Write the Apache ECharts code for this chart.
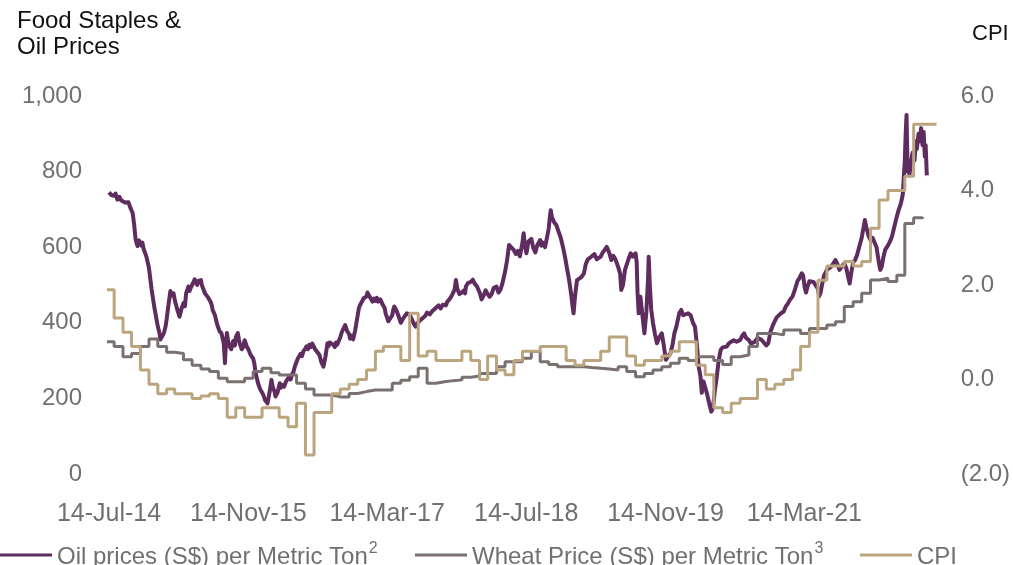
<!DOCTYPE html>
<html>
<head>
<meta charset="utf-8">
<script src="https://cdn.jsdelivr.net/npm/echarts@6/dist/echarts.min.js"></script>
<style>
  html, body { margin: 0; padding: 0; background: #ffffff; }
  #chart { width: 1013px; height: 565px; }
</style>
</head>
<body>
<div id="chart"></div>
<script>
// ---- Series names and footnote markers ----
const OIL_NAME = 'Oil prices (S$) per Metric Ton';
const WHEAT_NAME = 'Wheat Price (S$) per Metric Ton';
const CPI_NAME = 'CPI';
const footnotes = { [OIL_NAME]: '2', [WHEAT_NAME]: '3', [CPI_NAME]: '' };

// ---- X-axis tick dates ----
const xTickDates = ['2014-07-14', '2015-11-14', '2017-03-14', '2018-07-14', '2019-11-14', '2021-03-14'];
const xStart = '2014-07-14';
const xEnd = '2022-07-01';

// ---- Oil prices (S$ per metric ton) ----
const oilPrices = [
  ['2014-07-14',745],['2014-07-18',748],['2014-07-22',738],['2014-07-27',741],['2014-08-01',736],
  ['2014-08-06',742],['2014-08-12',726],['2014-08-20',733],['2014-08-25',724],['2014-09-01',728],
  ['2014-09-08',718],['2014-09-15',715],['2014-09-20',719],['2014-09-25',708],['2014-10-01',704],
  ['2014-10-05',690],['2014-10-10',660],['2014-10-15',622],['2014-10-18',612],['2014-10-22',603],
  ['2014-10-27',618],['2014-11-01',615],['2014-11-05',604],['2014-11-08',612],['2014-11-12',596],
  ['2014-11-15',598],['2014-11-22',575],['2014-12-01',545],['2014-12-10',490],['2014-12-20',440],
  ['2015-01-01',390],['2015-01-07',372],['2015-01-10',356],['2015-01-15',352],['2015-01-22',372],
  ['2015-01-28',390],['2015-02-01',410],['2015-02-06',440],['2015-02-10',462],['2015-02-14',484],
  ['2015-02-18',472],['2015-02-25',478],['2015-03-02',458],['2015-03-05',462],['2015-03-12',430],
  ['2015-03-18',416],['2015-03-22',428],['2015-03-25',438],['2015-04-01',452],['2015-04-06',444],
  ['2015-04-10',478],['2015-04-18',496],['2015-04-22',484],['2015-04-25',490],['2015-05-01',500],
  ['2015-05-05',506],['2015-05-10',515],['2015-05-15',518],['2015-05-19',500],['2015-05-22',510],
  ['2015-06-01',513],['2015-06-04',500],['2015-06-08',505],['2015-06-15',478],['2015-06-20',482],
  ['2015-06-25',468],['2015-07-05',455],['2015-07-09',446],['2015-07-12',434],['2015-07-20',420],
  ['2015-07-28',395],['2015-08-05',378],['2015-08-12',372],['2015-08-20',345],['2015-08-24',293],
  ['2015-08-27',340],['2015-08-31',373],['2015-09-04',352],['2015-09-08',338],['2015-09-15',330],
  ['2015-09-22',352],['2015-09-28',340],['2015-10-01',362],['2015-10-08',373],['2015-10-12',356],
  ['2015-10-15',345],['2015-10-22',330],['2015-10-27',336],['2015-11-01',354],['2015-11-05',346],
  ['2015-11-08',338],['2015-11-15',328],['2015-11-22',315],['2015-12-01',305],['2015-12-05',292],
  ['2015-12-10',265],['2015-12-18',240],['2015-12-25',225],['2016-01-05',210],['2016-01-12',195],
  ['2016-01-20',187],['2016-01-27',215],['2016-02-03',249],['2016-02-07',232],['2016-02-10',225],
  ['2016-02-14',218],['2016-02-17',205],['2016-02-24',215],['2016-03-03',240],['2016-03-07',228],
  ['2016-03-10',236],['2016-03-18',231],['2016-03-25',245],['2016-04-01',250],['2016-04-05',257],
  ['2016-04-10',250],['2016-04-15',264],['2016-04-20',270],['2016-04-25',285],['2016-05-05',305],
  ['2016-05-10',310],['2016-05-15',318],['2016-05-20',312],['2016-05-25',325],['2016-06-01',332],
  ['2016-06-05',338],['2016-06-10',330],['2016-06-15',342],['2016-06-20',336],['2016-06-25',345],
  ['2016-07-05',330],['2016-07-12',325],['2016-07-20',315],['2016-07-27',295],['2016-08-03',284],
  ['2016-08-10',310],['2016-08-17',346],['2016-08-21',338],['2016-08-25',348],['2016-09-05',343],
  ['2016-09-12',336],['2016-09-16',348],['2016-09-20',342],['2016-10-01',362],['2016-10-05',372],
  ['2016-10-10',382],['2016-10-18',394],['2016-10-25',378],['2016-11-01',370],['2016-11-04',358],
  ['2016-11-08',366],['2016-11-15',356],['2016-11-22',380],['2016-12-01',420],['2016-12-05',438],
  ['2016-12-08',445],['2016-12-15',455],['2016-12-22',465],['2017-01-01',470],['2017-01-04',480],
  ['2017-01-08',474],['2017-01-15',470],['2017-01-22',456],['2017-01-27',464],['2017-02-01',458],
  ['2017-02-06',466],['2017-02-10',456],['2017-02-18',462],['2017-02-25',450],['2017-03-05',440],
  ['2017-03-09',424],['2017-03-12',418],['2017-03-18',404],['2017-03-25',400],['2017-04-01',420],
  ['2017-04-05',436],['2017-04-08',443],['2017-04-15',434],['2017-04-22',420],['2017-05-01',400],
  ['2017-05-05',396],['2017-05-08',410],['2017-05-15',418],['2017-05-22',425],['2017-06-01',422],
  ['2017-06-08',410],['2017-06-15',398],['2017-06-22',390],['2017-06-27',398],['2017-07-01',402],
  ['2017-07-08',407],['2017-07-15',412],['2017-07-25',418],['2017-08-01',427],['2017-08-10',422],
  ['2017-08-18',430],['2017-08-25',432],['2017-09-01',440],['2017-09-10',446],['2017-09-18',438],
  ['2017-09-25',448],['2017-10-01',452],['2017-10-06',446],['2017-10-10',455],['2017-10-18',462],
  ['2017-10-25',470],['2017-11-01',474],['2017-11-05',487],['2017-11-10',513],['2017-11-15',490],
  ['2017-11-22',476],['2017-12-01',480],['2017-12-08',486],['2017-12-12',478],['2017-12-15',496],
  ['2017-12-22',505],['2018-01-01',508],['2018-01-08',514],['2018-01-15',503],['2018-01-22',497],
  ['2018-02-01',480],['2018-02-08',462],['2018-02-15',472],['2018-02-22',486],['2018-03-01',476],
  ['2018-03-08',469],['2018-03-15',476],['2018-03-22',492],['2018-04-01',496],['2018-04-08',480],
  ['2018-04-15',488],['2018-04-22',505],['2018-05-01',535],['2018-05-08',565],['2018-05-15',606],
  ['2018-05-22',600],['2018-06-01',592],['2018-06-08',582],['2018-06-15',590],['2018-06-22',576],
  ['2018-07-01',612],['2018-07-05',637],['2018-07-10',602],['2018-07-15',584],['2018-07-22',615],
  ['2018-08-01',622],['2018-08-08',598],['2018-08-15',586],['2018-08-22',606],['2018-09-01',619],
  ['2018-09-05',604],['2018-09-10',612],['2018-09-18',600],['2018-09-25',626],['2018-10-01',650],
  ['2018-10-05',680],['2018-10-08',698],['2018-10-12',680],['2018-10-20',666],['2018-10-28',658],
  ['2018-11-05',640],['2018-11-12',625],['2018-11-20',600],['2018-11-28',570],['2018-12-05',540],
  ['2018-12-12',510],['2018-12-18',478],['2018-12-24',440],['2018-12-27',425],['2019-01-01',470],
  ['2019-01-08',513],['2019-01-15',508],['2019-01-22',520],['2019-02-01',530],['2019-02-08',556],
  ['2019-02-15',568],['2019-02-22',572],['2019-03-01',576],['2019-03-10',582],['2019-03-18',568],
  ['2019-03-25',572],['2019-04-01',575],['2019-04-08',586],['2019-04-15',593],['2019-04-22',601],
  ['2019-05-01',585],['2019-05-08',566],['2019-05-15',577],['2019-05-22',569],['2019-06-01',548],
  ['2019-06-08',530],['2019-06-12',487],['2019-06-18',500],['2019-06-25',540],['2019-07-01',545],
  ['2019-07-08',570],['2019-07-15',584],['2019-07-22',575],['2019-08-01',584],['2019-08-05',560],
  ['2019-08-08',480],['2019-08-12',425],['2019-08-18',469],['2019-08-25',420],['2019-09-01',372],
  ['2019-09-08',430],['2019-09-14',520],['2019-09-16',575],['2019-09-20',500],['2019-09-25',434],
  ['2019-10-01',400],['2019-10-08',370],['2019-10-15',346],['2019-10-22',360],['2019-11-01',372],
  ['2019-11-08',340],['2019-11-15',302],['2019-11-22',310],['2019-12-01',319],['2019-12-08',340],
  ['2019-12-15',372],['2019-12-22',390],['2020-01-01',425],['2020-01-08',434],['2020-01-15',420],
  ['2020-01-22',416],['2020-02-01',425],['2020-02-10',420],['2020-02-18',400],['2020-02-25',390],
  ['2020-03-03',340],['2020-03-09',284],['2020-03-15',260],['2020-03-20',215],['2020-03-26',245],
  ['2020-04-01',249],['2020-04-08',210],['2020-04-15',187],['2020-04-22',165],['2020-04-28',175],
  ['2020-05-05',222],['2020-05-12',260],['2020-05-18',300],['2020-05-25',328],['2020-06-01',335],
  ['2020-06-08',330],['2020-06-15',337],['2020-06-22',345],['2020-07-01',350],['2020-07-10',354],
  ['2020-07-20',350],['2020-08-01',354],['2020-08-08',365],['2020-08-15',372],['2020-08-22',360],
  ['2020-09-01',354],['2020-09-08',345],['2020-09-15',346],['2020-09-22',350],['2020-10-01',360],
  ['2020-10-08',363],['2020-10-15',355],['2020-10-22',350],['2020-11-01',340],['2020-11-08',346],
  ['2020-11-15',375],['2020-11-22',390],['2020-12-01',405],['2020-12-08',415],['2020-12-15',420],
  ['2020-12-22',425],['2021-01-01',430],['2021-01-08',443],['2021-01-15',450],['2021-01-22',460],
  ['2021-02-01',470],['2021-02-10',490],['2021-02-18',510],['2021-02-25',518],['2021-03-05',531],
  ['2021-03-10',525],['2021-03-15',495],['2021-03-20',480],['2021-03-25',495],['2021-04-01',510],
  ['2021-04-08',513],['2021-04-15',508],['2021-04-22',504],['2021-05-01',490],['2021-05-05',470],
  ['2021-05-10',480],['2021-05-15',500],['2021-05-22',525],['2021-06-01',540],['2021-06-08',545],
  ['2021-06-15',548],['2021-06-22',555],['2021-07-01',566],['2021-07-08',555],['2021-07-15',540],
  ['2021-07-22',545],['2021-08-01',557],['2021-08-08',545],['2021-08-15',520],['2021-08-20',504],
  ['2021-08-25',530],['2021-09-01',560],['2021-09-08',566],['2021-09-15',580],['2021-09-22',600],
  ['2021-10-01',625],['2021-10-08',655],['2021-10-12',672],['2021-10-18',650],['2021-10-25',630],
  ['2021-11-01',619],['2021-11-08',625],['2021-11-15',628],['2021-11-22',600],['2021-12-01',555],
  ['2021-12-05',540],['2021-12-10',548],['2021-12-15',570],['2021-12-22',593],['2022-01-01',605],
  ['2022-01-08',615],['2022-01-15',628],['2022-01-22',650],['2022-02-01',681],['2022-02-08',700],
  ['2022-02-15',715],['2022-02-22',740],['2022-02-25',780],['2022-03-01',830],['2022-03-04',900],
  ['2022-03-07',950],['2022-03-09',870],['2022-03-11',800],['2022-03-14',830],['2022-03-17',790],
  ['2022-03-22',820],['2022-03-28',850],['2022-04-04',830],['2022-04-08',880],['2022-04-12',860],
  ['2022-04-18',900],['2022-04-22',880],['2022-04-27',915],['2022-05-02',870],['2022-05-06',905],
  ['2022-05-10',840],['2022-05-13',870],['2022-05-17',790]
];

// ---- Monthly step series: Jul 2014 .. May 2022 ----
const stepStartMonth = [2014, 7];
const wheatPrices = [
  350, 337, 310, 319, 337, 357,
  337, 322, 319, 302, 288, 278, 271, 253, 244, 244, 253, 271,
  280, 268, 262, 262, 240, 225, 209, 209, 204, 204, 213, 218,
  222, 222, 222, 240, 248, 257, 280, 240, 244, 247, 249, 256,
  259, 266, 266, 284, 297, 297, 306, 324, 297, 290, 284, 284,
  284, 282, 280, 278, 275, 284, 271, 257, 266, 275, 284, 293,
  306, 300, 310, 310, 300, 290, 310, 315, 337, 372, 372, 368,
  381, 381, 372, 385, 385, 394, 403, 443, 456, 478, 513, 518,
  509, 526, 663, 678
];
const wheatEnd = ['2022-05-03', 680];

const cpiValues = [
  1.9, 1.3, 1.0, 0.7, 0.2, -0.1,
  -0.3, -0.2, -0.3, -0.3, -0.4, -0.35, -0.3, -0.4, -0.8, -0.6, -0.8, -0.8,
  -0.6, -0.6, -0.8, -1.0, -0.5, -1.6, -0.7, -0.7, -0.3, -0.2, -0.1, 0.0,
  0.2, 0.6, 0.7, 0.7, 0.4, 1.4, 0.5, 0.6, 0.4, 0.4, 0.4, 0.6,
  0.4, 0.0, 0.5, 0.2, 0.1, 0.4, 0.6, 0.6, 0.7, 0.7, 0.7, 0.4,
  0.3, 0.4, 0.4, 0.6, 0.9, 0.9, 0.5, 0.3, 0.4, 0.4, 0.5, 0.6,
  0.8, 0.8, 0.3, 0.1, -0.6, -0.7, -0.5, -0.4, -0.4, 0.0, -0.2, -0.1,
  0.0, 0.2, 0.7, 1.0, 2.1, 2.4, 2.4, 2.5, 2.4, 2.5, 3.2, 3.8,
  4.0, 4.0, 4.3, 5.4, 5.4
];
const cpiEnd = ['2022-06-20', 5.4];

// ---- Helpers ----
const MONTH_ABBR = ['Jan','Feb','Mar','Apr','May','Jun','Jul','Aug','Sep','Oct','Nov','Dec'];
function toTime(s) {
  const p = s.split('-').map(Number);
  return new Date(p[0], p[1] - 1, p[2] || 1).getTime();
}
function monthDate(i) {
  const total = stepStartMonth[0] * 12 + (stepStartMonth[1] - 1) + i;
  const y = Math.floor(total / 12), m = total % 12 + 1;
  return y + '-' + (m < 10 ? '0' + m : m) + '-01';
}
function monthlySteps(values, endPoint) {
  const out = values.map((v, i) => [toTime(monthDate(i)), v]);
  out.push([toTime(endPoint[0]), endPoint[1]]);
  return out;
}
function fmtDate(v) {
  const d = new Date(v);
  return d.getDate() + '-' + MONTH_ABBR[d.getMonth()] + '-' + String(d.getFullYear()).slice(2);
}

const FONT = '"Liberation Sans", Arial, sans-serif';
const TICK_COLOR = '#707070';
const COLORS = { oil: '#5e2c5e', wheat: '#7b7070', cpi: '#bba57f' };

const chart = echarts.init(document.getElementById('chart'), null, { renderer: 'canvas' });

// Legend entries: name followed by a raised footnote number
const legendBase = {
  orient: 'horizontal',
  top: 541,
  padding: 0,
  icon: 'rect',
  itemWidth: 52,
  itemHeight: 3,
  selectedMode: false,
  formatter: name => '{t|' + name + '}{s|' + (footnotes[name] || ' ') + '}',
  textStyle: {
    fontFamily: FONT,
    fontSize: 24,
    color: TICK_COLOR,
    rich: {
      t: { fontFamily: FONT, fontSize: 24, color: TICK_COLOR, lineHeight: 28, verticalAlign: 'bottom' },
      s: { fontFamily: FONT, fontSize: 16, color: TICK_COLOR, lineHeight: 28, verticalAlign: 'top', padding: [0, 0, 0, 1] }
    }
  }
};

chart.setOption({
  animation: false,
  backgroundColor: '#ffffff',
  title: [
    {
      text: 'Food Staples &\nOil Prices',
      left: 17, top: 8, padding: 0,
      textStyle: { fontFamily: FONT, fontSize: 24, fontWeight: 'normal', color: '#111111', lineHeight: 26 }
    },
    {
      text: 'CPI',
      left: 972, top: 23, padding: 0,
      textStyle: { fontFamily: FONT, fontSize: 22, fontWeight: 'normal', color: '#111111' }
    }
  ],
  legend: [
    Object.assign({}, legendBase, { left: 0, data: [OIL_NAME] }),
    Object.assign({}, legendBase, { left: 415, data: [WHEAT_NAME] }),
    Object.assign({}, legendBase, { left: 860, data: [CPI_NAME] })
  ],
  grid: { left: 109, right: 71.4, top: 96, bottom: 91, containLabel: false },
  xAxis: {
    type: 'value',
    min: toTime(xStart),
    max: toTime(xEnd),
    axisLine: { show: false },
    axisTick: { show: false },
    splitLine: { show: false },
    axisLabel: {
      customValues: xTickDates.map(toTime),
      formatter: v => fmtDate(v),
      fontFamily: FONT, fontSize: 25, color: TICK_COLOR, margin: 28,
      hideOverlap: false
    }
  },
  yAxis: [
    {
      type: 'value', min: 0, max: 1000, interval: 200,
      axisLine: { show: false }, axisTick: { show: false }, splitLine: { show: false },
      axisLabel: {
        formatter: v => v.toLocaleString('en-US'),
        fontFamily: FONT, fontSize: 24, color: TICK_COLOR, margin: 27
      }
    },
    {
      type: 'value', min: -2, max: 6, interval: 2, position: 'right',
      axisLine: { show: false }, axisTick: { show: false }, splitLine: { show: false },
      axisLabel: {
        formatter: v => v < 0 ? '(' + Math.abs(v).toFixed(1) + ')' : v.toFixed(1),
        fontFamily: FONT, fontSize: 24, color: TICK_COLOR, margin: 21
      }
    }
  ],
  series: [
    {
      name: OIL_NAME, type: 'line', yAxisIndex: 0,
      data: oilPrices.map(p => [toTime(p[0]), p[1]]),
      showSymbol: false, symbol: 'none',
      lineStyle: { color: COLORS.oil, width: 4, join: 'round' },
      itemStyle: { color: COLORS.oil },
      clip: true
    },
    {
      name: WHEAT_NAME, type: 'line', yAxisIndex: 0, step: 'end',
      data: monthlySteps(wheatPrices, wheatEnd),
      showSymbol: false, symbol: 'none',
      lineStyle: { color: COLORS.wheat, width: 3 },
      itemStyle: { color: COLORS.wheat },
      clip: true
    },
    {
      name: CPI_NAME, type: 'line', yAxisIndex: 1, step: 'end',
      data: monthlySteps(cpiValues, cpiEnd),
      showSymbol: false, symbol: 'none',
      lineStyle: { color: COLORS.cpi, width: 3 },
      itemStyle: { color: COLORS.cpi },
      clip: true
    }
  ]
});
</script>
</body>
</html>
